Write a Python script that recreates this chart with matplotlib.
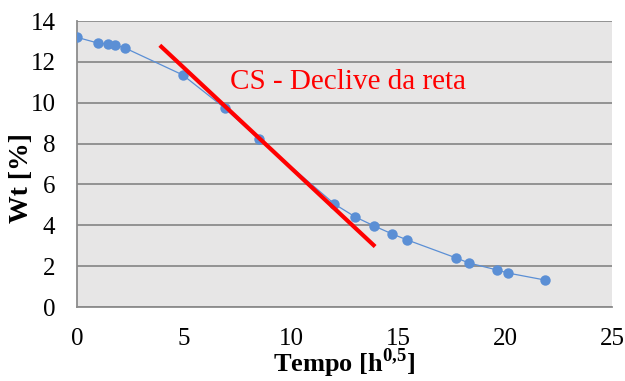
import matplotlib
matplotlib.use('Agg')
import matplotlib.pyplot as plt

# ----------------------------------------------------------------
# Data
# ----------------------------------------------------------------
tempo = [0.0, 0.98, 1.45, 1.77, 2.24, 4.94, 6.90, 8.49, 12.03, 13.00,
         13.90, 14.74, 15.44, 17.72, 18.33, 19.64, 20.15, 21.87]
wt = [13.20, 12.92, 12.87, 12.82, 12.68, 11.36, 9.74, 8.22, 5.04, 4.41,
      3.96, 3.57, 3.28, 2.40, 2.15, 1.81, 1.66, 1.32]

# slope line (CS)
reta_x = [3.87, 13.93]
reta_y = [12.81, 2.96]

x_ticks = [0, 5, 10, 15, 20, 25]
y_ticks = [0, 2, 4, 6, 8, 10, 12, 14]

plt.rcParams['font.family'] = ['Liberation Serif', 'DejaVu Serif']
plt.rcParams['mathtext.fontset'] = 'custom'
plt.rcParams['mathtext.rm'] = 'Liberation Serif'
plt.rcParams['mathtext.bf'] = 'Liberation Serif:bold'

fig = plt.figure(figsize=(6.25, 3.81), dpi=100)
ax = fig.add_axes([77 / 625, 1 - 307 / 381, 535 / 625, 286 / 381])
ax.set_facecolor('#e7e6e6')

ax.plot(tempo, wt, color='#5b8fd5', lw=0.9, marker='o', ms=7.5,
        markeredgewidth=0, zorder=3)
ax.plot(reta_x, reta_y, color='#ff0000', lw=3, solid_capstyle='butt', zorder=4)
ax.text(7.14, 10.67, 'CS - Declive da reta', color='#ff0000',
        fontsize=21, ha='left', va='baseline', zorder=5)

ax.set_xlim(0, 25)
ax.set_ylim(0, 14)
ax.set_xticks(x_ticks)
ax.set_yticks(y_ticks)
ax.yaxis.grid(True, color='#8c8c8c', lw=1.3)
ax.set_axisbelow(True)
ax.tick_params(length=0, labelsize=18)
ax.tick_params(axis='y', pad=15.5)
ax.tick_params(axis='x', pad=15)

for s in ['top', 'right']:
    ax.spines[s].set_visible(False)
for s in ['left', 'bottom']:
    ax.spines[s].set_color('#8c8c8c')
    ax.spines[s].set_linewidth(1.3)

ax.set_xlabel(r'Tempo [h$^{\mathbf{0{,}5}}$]', fontsize=19, fontweight='bold')
ax.set_ylabel('Wt [%]', fontsize=20, fontweight='bold')
ax.xaxis.set_label_coords(0.5, -0.196)
ax.xaxis.label.set_va('center')
ax.yaxis.set_label_coords(-0.103, 0.451)
ax.yaxis.label.set_va('center')

fig.savefig('out.png', dpi=100)
